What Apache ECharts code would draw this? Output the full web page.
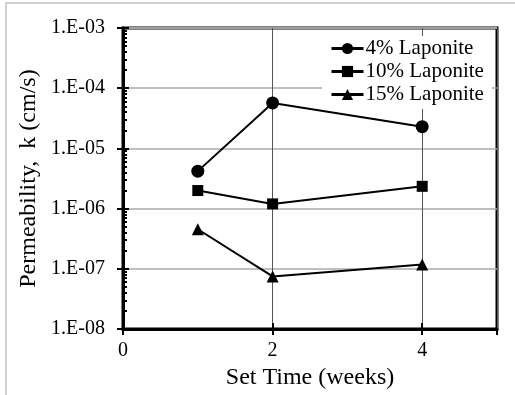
<!DOCTYPE html>
<html>
<head>
<meta charset="utf-8">
<script src="https://cdn.jsdelivr.net/npm/echarts@6/dist/echarts.min.js"></script>
<style>
  html, body { margin: 0; padding: 0; background: #fff; }
  #frame {
    position: absolute; left: 5px; top: 2px; width: 515px; height: 400px;
    border-top: 2px solid #cfcfcf; border-left: 2px solid #cfcfcf;
  }
  #chart { position: absolute; left: 0; top: 0; width: 515px; height: 395px; }
</style>
</head>
<body>
<div id="frame"></div>
<div id="chart"></div>
<script>
// Set time in weeks
const weeks = [1, 2, 4];
// Permeability k (cm/s)
const k4 = [4.2e-6, 5.7e-5, 2.3e-5];
const k10 = [2.0e-6, 1.2e-6, 2.35e-6];
const k15 = [4.55e-7, 7.5e-8, 1.18e-7];

const seriesNames = ['4% Laponite', '10% Laponite', '15% Laponite'];
const font = '"Liberation Serif", "Times New Roman", serif';

function pairs(xs, ys) {
  return xs.map((x, i) => [x, ys[i]]);
}

function fmtExp(v) {
  const e = Math.round(Math.log10(v));
  const s = String(Math.abs(e)).padStart(2, '0');
  return '1.E' + (e < 0 ? '-' : '+') + s;
}

const chart = echarts.init(document.getElementById('chart'));

function makeSeries(name, data, symbol, size) {
  return {
    name: name,
    type: 'line',
    data: pairs(weeks, data),
    symbol: symbol,
    symbolSize: size,
    lineStyle: { color: '#000', width: 2 },
    itemStyle: { color: '#000' },
    animation: false,
  };
}

const option = {
  grid: { left: 123, right: 18, top: 28, bottom: 64, show: true, borderColor: '#000', borderWidth: 3 },
  legend: {
    orient: 'vertical',
    left: 322,
    top: 36,
    padding: [2, 8, 4, 8],
    itemGap: 2,
    itemWidth: 32,
    itemHeight: 14,
    backgroundColor: '#fff',
    lineStyle: { width: 3 },
    textStyle: { fontFamily: font, fontSize: 21, color: '#000', padding: [0, 0, 0, -3] },
    data: seriesNames,
  },
  xAxis: [
    {
      type: 'value',
      min: 0,
      max: 5,
      interval: 2,
      name: 'Set Time (weeks)',
      nameLocation: 'middle',
      nameGap: 34,
      nameTextStyle: { fontFamily: font, fontSize: 24, color: '#000' },
      axisLine: { lineStyle: { color: '#000', width: 3 } },
      axisTick: { inside: true, length: 6, lineStyle: { color: '#000', width: 2 } },
      axisLabel: { fontFamily: font, fontSize: 20, color: '#000', margin: 12, showMaxLabel: false },
      splitLine: { show: true, lineStyle: { color: '#555', width: 1 } },
    },
    {
      type: 'value',
      position: 'bottom',
      min: 0,
      max: 5,
      interval: 2,
      axisLine: { show: false },
      axisTick: { inside: false, length: 6, lineStyle: { color: '#000', width: 2 } },
      axisLabel: { show: false },
      splitLine: { show: false },
    },
  ],
  yAxis: [
    {
      type: 'log',
      logBase: 10,
      min: 1e-8,
      max: 1e-3,
      name: 'Permeability,  k (cm/s)',
      nameLocation: 'middle',
      nameGap: 80,
      nameTextStyle: { fontFamily: font, fontSize: 24, color: '#000' },
      axisLine: { lineStyle: { color: '#000', width: 3 } },
      axisTick: { inside: true, length: 6, lineStyle: { color: '#000', width: 2 } },
      minorTick: { show: true, splitNumber: 9, length: 4, lineStyle: { color: '#000', width: 2 } },
      axisLabel: { fontFamily: font, fontSize: 20, color: '#000', margin: 18, formatter: fmtExp },
      splitLine: { show: true, lineStyle: { color: '#aaa', width: 1.5 } },
    },
    {
      type: 'log',
      logBase: 10,
      position: 'left',
      min: 1e-8,
      max: 1e-3,
      axisLine: { show: false },
      axisTick: { inside: false, length: 6, lineStyle: { color: '#000', width: 2 } },
      axisLabel: { show: false },
      splitLine: { show: false },
    },
  ],
  series: [
    makeSeries(seriesNames[0], k4, 'circle', 13),
    makeSeries(seriesNames[1], k10, 'rect', 11),
    makeSeries(seriesNames[2], k15, 'triangle', 12),
  ],
};

chart.setOption(option);
</script>
</body>
</html>
